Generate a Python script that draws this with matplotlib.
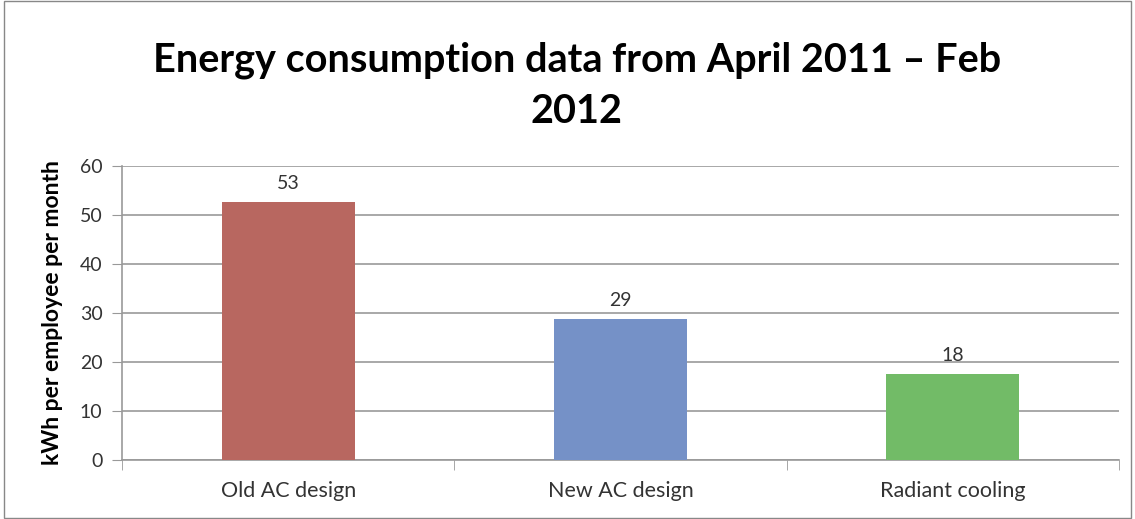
import matplotlib.pyplot as plt
from matplotlib.patches import Rectangle

categories = ['Old AC design', 'New AC design', 'Radiant cooling']
values = [52.7, 28.8, 17.6]
labels = ['53', '29', '18']
colors = ['#B86760', '#7591C7', '#72BB67']

plt.rcParams['font.family'] = ['Lato', 'DejaVu Sans']

fig = plt.figure(figsize=(11.35, 5.19), dpi=100)
ax = fig.add_axes([122/1135, 59/519, 997/1135, 294/519])

x = range(len(categories))
bars = ax.bar(x, values, width=0.4, color=colors, zorder=3)
for b, lab in zip(bars, labels):
    ax.text(b.get_x() + b.get_width()/2, b.get_height() + 2.0, lab,
            ha='center', va='bottom', fontsize=14, color='#333333')

ax.set_xlim(-0.5, 2.5)
ax.set_ylim(0, 60)
ax.set_yticks(range(0, 61, 10))
ax.set_xticks(x)
ax.set_xticklabels(categories, fontsize=15.5, color='#333333')
ax.set_xticks([-0.5, 0.5, 1.5, 2.5], minor=True)
ax.tick_params(axis='x', which='major', length=0, pad=15)
ax.tick_params(axis='x', which='minor', length=7, color='#999999', direction='out')
ax.tick_params(axis='y', length=7, color='#999999', labelsize=14, labelcolor='#333333', pad=7)
ax.grid(axis='y', color='#999999', linewidth=1.2, zorder=0)
for s in ['top', 'right']:
    ax.spines[s].set_visible(False)
ax.spines['left'].set_color('#999999')
ax.spines['bottom'].set_color('#999999')
ax.spines['left'].set_linewidth(1.2)
ax.spines['bottom'].set_linewidth(1.2)

ax.set_ylabel('kWh per employee per month', fontsize=16.5, fontweight='bold', labelpad=12)
fig.text(0.508, 0.835, 'Energy consumption data from April 2011 – Feb\n2012',
         ha='center', va='center', fontsize=28.5, fontweight='bold',
         linespacing=1.45)

fig.patches.append(Rectangle((4/1135, 0.002), 1127/1135, 0.996, transform=fig.transFigure,
                             fill=False, edgecolor='#888888', linewidth=1))

fig.savefig('out.png', dpi=100)
